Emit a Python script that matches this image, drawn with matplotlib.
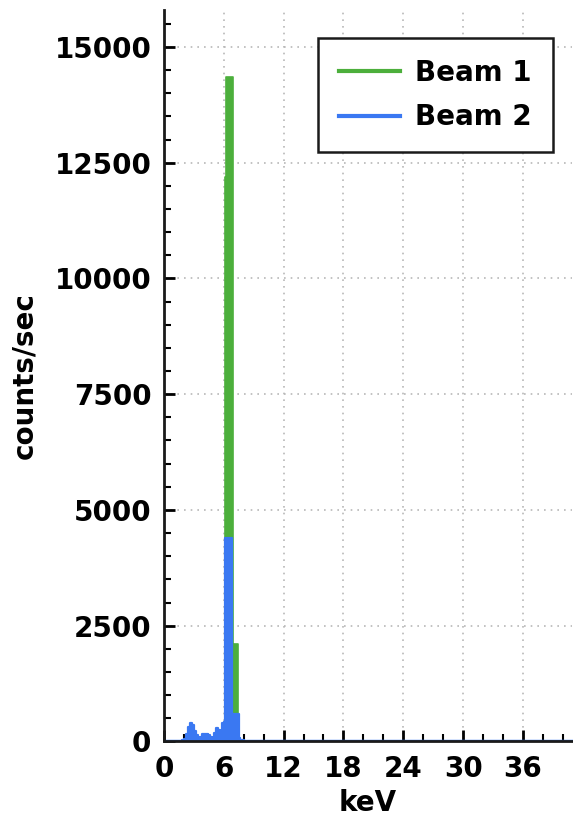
import matplotlib
matplotlib.use('Agg')
import matplotlib.pyplot as plt
from matplotlib.ticker import MultipleLocator

plt.rcParams["font.family"] = ["DejaVu Sans"]
plt.rcParams["font.weight"] = "bold"

# channel start energies (keV) and count rates
energy = [0.0, 1.6, 1.8, 2.0, 2.2, 2.4, 2.6, 2.8, 3.0, 3.2, 3.4, 3.6, 3.8,
          4.0, 4.2, 4.4, 4.6, 4.8, 5.0, 5.2, 5.4, 5.6, 5.8, 5.9, 6.0,
          6.1, 6.2, 6.3, 6.4, 6.5, 6.6, 6.7, 6.8, 6.9, 7.0, 7.1, 7.2,
          7.3, 7.4, 7.5, 7.6, 8.0, 41.0]
beam1 = [5, 10, 20, 40, 100, 260, 320, 290, 180, 100, 50, 60, 100,
         130, 130, 110, 60, 50, 120, 200, 180, 150, 250, 250, 300,
         12200, 14350, 14350, 14350, 14350, 14350, 14350, 14350, 2100, 2100, 2100, 2100,
         2100, 80, 20, 10, 5, 0]
beam2 = [10, 15, 30, 60, 150, 320, 390, 350, 230, 130, 70, 90, 150,
         170, 170, 140, 90, 80, 180, 280, 250, 220, 390, 330, 420,
         4400, 4400, 4400, 4400, 4400, 4400, 4400, 600, 600, 600, 600, 600,
         600, 600, 80, 20, 5, 0]

green = '#4caf3c'
blue = '#3a78f2'

fig = plt.figure(figsize=(5.73, 8.33), dpi=100)
ax = fig.add_axes([0.286, 0.110, 0.712, 0.878])

ax.fill_between(energy, beam1, step='post', facecolor=green, edgecolor=green, linewidth=1.2)
ax.fill_between(energy, beam2, step='post', facecolor=blue, edgecolor=blue, linewidth=1.6)
# legend handles
ax.plot([], [], color=green, linewidth=3, label='Beam 1')
ax.plot([], [], color=blue, linewidth=3, label='Beam 2')

ax.set_xlim(0, 40.9)
ax.set_ylim(0, 15800)
ax.xaxis.set_major_locator(MultipleLocator(6))
ax.xaxis.set_minor_locator(MultipleLocator(2))
ax.yaxis.set_major_locator(MultipleLocator(2500))
ax.yaxis.set_minor_locator(MultipleLocator(500))

ax.grid(True, which='major', linestyle=(0, (1, 3)), color='#b8b8b8', linewidth=1.2)
ax.set_axisbelow(True)

for s in ['top', 'right']:
    ax.spines[s].set_visible(False)
for s in ['left', 'bottom']:
    ax.spines[s].set_linewidth(2)
    ax.spines[s].set_color('#1a1a1a')

ax.tick_params(which='major', direction='in', length=8, width=2, labelsize=20)
ax.tick_params(axis='x', which='major', pad=10)
ax.tick_params(axis='y', which='major', pad=9)
ax.tick_params(which='minor', direction='in', length=5, width=1.5)

ax.set_xlabel('keV', fontsize=20, fontweight='bold', labelpad=4)
ax.set_ylabel('counts/sec', fontsize=20, fontweight='bold', labelpad=12)

leg = ax.legend(loc='upper right', bbox_to_anchor=(0.953, 0.962), fontsize=20,
                fancybox=False, framealpha=1, edgecolor='#1a1a1a',
                handlelength=2.2, handletextpad=0.55, borderpad=0.75,
                labelspacing=0.6, borderaxespad=0)
leg.get_frame().set_linewidth(1.8)

fig.savefig('out.png', dpi=100)
